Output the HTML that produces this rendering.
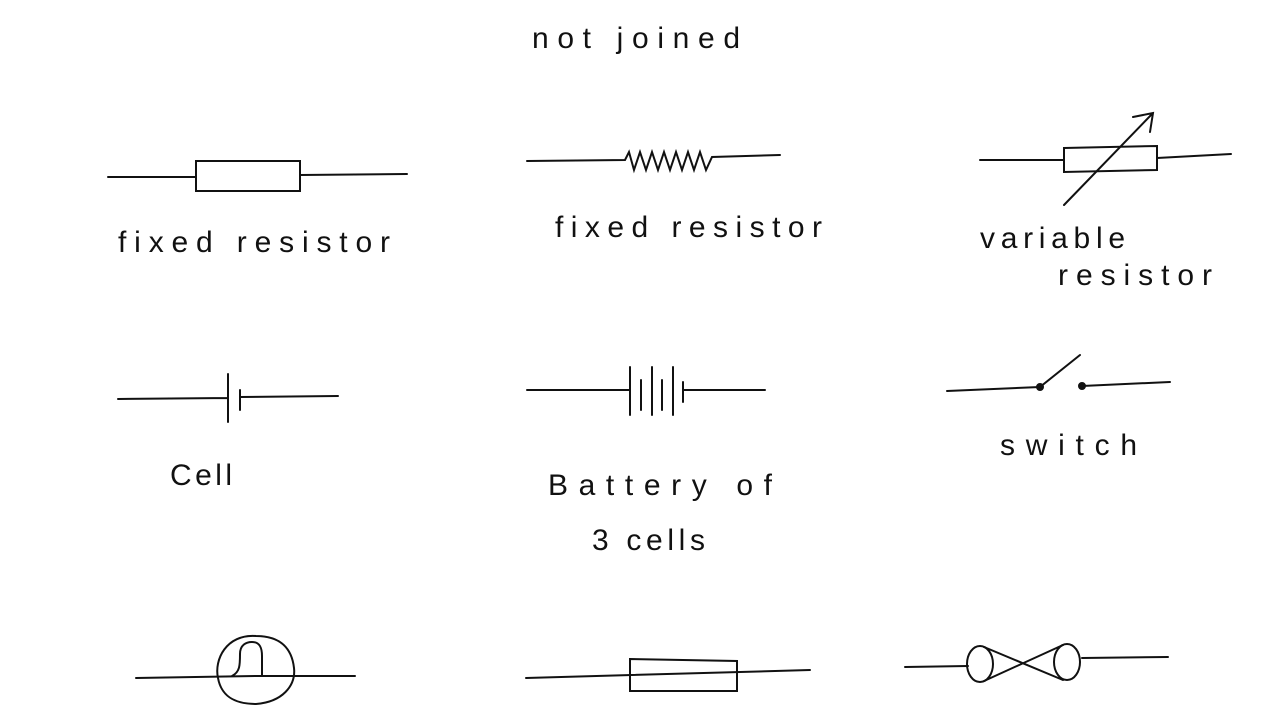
<!DOCTYPE html>
<html><head><meta charset="utf-8"><style>
html,body{margin:0;padding:0;background:#fff;}
svg{display:block}
text{font-family:"Liberation Sans",sans-serif;fill:#111;font-weight:normal;}
</style></head><body>
<svg width="1280" height="720" viewBox="0 0 1280 720" xmlns="http://www.w3.org/2000/svg">
<g stroke="#111" stroke-width="2" fill="none" stroke-linecap="round">
<path d="M108 177 L196 177 M300 175 L407 174"/>
<rect x="196" y="161" width="104" height="30"/>
<path d="M527 161 L625 160 L629 152 L634 170 L640 152 L646 170 L652 152 L658 170 L664 152 L670 170 L676 152 L682 170 L688 152 L694 170 L700 152 L706 170 L712 157 L780 155"/>
<path d="M980 160 L1064 160 M1157 158 L1231 154"/>
<path d="M1064 148 L1157 146 L1157 170 L1064 172 Z"/>
<path d="M1064 205 L1153 113 M1133 117 L1153 113 L1150 132"/>
<path d="M118 399 L228 398 M228 374 L228 422 M240 390 L240 410 M240 397 L338 396"/>
<path d="M527 390 L630 390 M630 367 L630 415 M641 380 L641 410 M652 367 L652 415 M662 380 L662 410 M673 367 L673 415 M683 382 L683 402 M683 390 L765 390"/>
<path d="M947 391 L1040 387 L1080 355 M1082 386 L1170 382"/>
<circle cx="1040" cy="387" r="3" fill="#111"/>
<circle cx="1082" cy="386" r="3" fill="#111"/>
<path d="M136 678 L255 676 M255 676 L345 676 L355 676"/>
<path d="M256 636 C226 634 214 660 218 678 C222 700 240 704 256 704 C282 702 296 686 294 668 C292 650 282 636 256 636 Z"/>
<path d="M232 676 C240 672 240 665 240 654 C240 645 246 642 252 642 C260 642 262 648 262 656 L262 676"/>
<path d="M526 678 L810 670"/>
<path d="M630 659 L737 661 L737 691 L630 691 Z"/>
<path d="M905 667 L968 666 M1082 658 L1168 657"/>
<ellipse cx="980" cy="664" rx="13" ry="18"/>
<ellipse cx="1067" cy="662" rx="13" ry="18"/>
<path d="M984 647 L1063 680 M984 681 L1063 645"/>
</g>
<g font-size="30">
<text x="532" y="48" textLength="208" lengthAdjust="spacing">not joined</text>
<text x="118" y="252" textLength="272" lengthAdjust="spacing">fixed    resistor</text>
<text x="555" y="237" textLength="267" lengthAdjust="spacing">fixed resistor</text>
<text x="980" y="248" textLength="145" lengthAdjust="spacing">variable</text>
<text x="1058" y="285" textLength="154" lengthAdjust="spacing">resistor</text>
<text x="170" y="485" textLength="62" lengthAdjust="spacing">Cell</text>
<text x="548" y="495" textLength="224" lengthAdjust="spacing">Battery  of</text>
<text x="592" y="550" textLength="113" lengthAdjust="spacing">3 cells</text>
<text x="1000" y="455" textLength="137" lengthAdjust="spacing">switch</text>
</g>
</svg>
</body></html>
